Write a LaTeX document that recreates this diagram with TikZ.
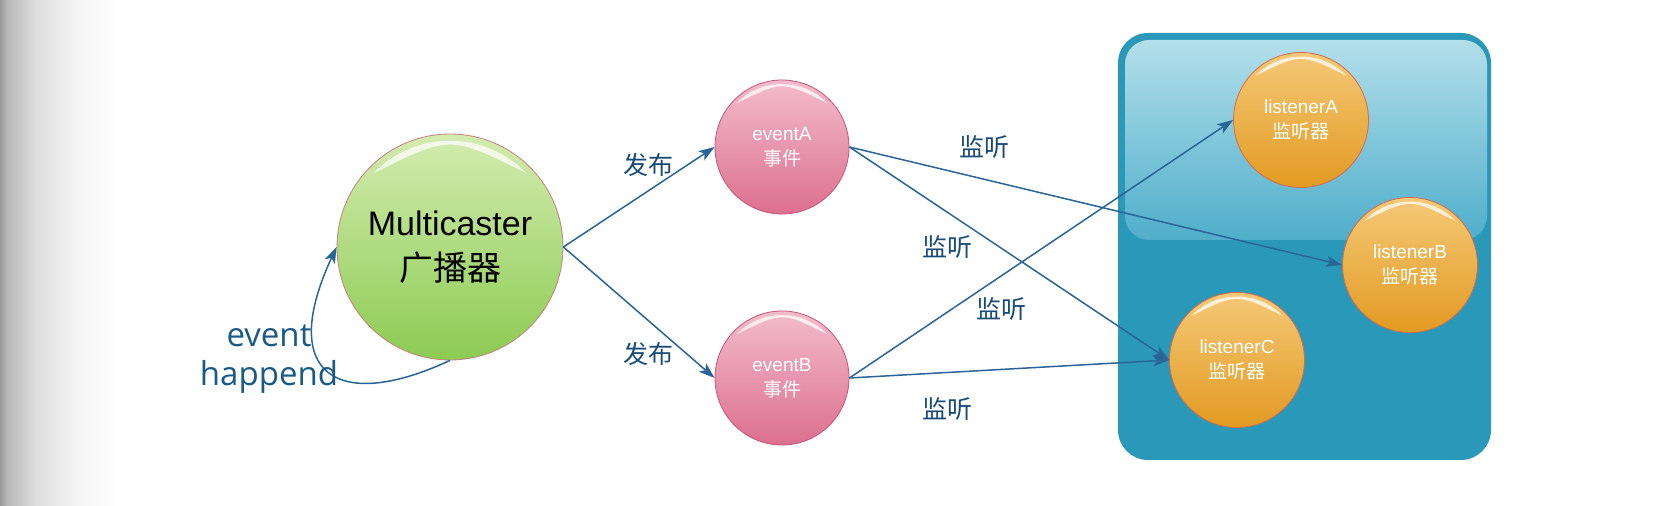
\documentclass[tikz,border=0pt]{standalone}
\usepackage{fontspec}
\setmainfont{Liberation Sans}
\newfontfamily\cjk{Noto Sans CJK SC}
\newfontfamily\lblfont{Open Sans}
\usetikzlibrary{arrows.meta,calc}
\definecolor{arrowc}{HTML}{2A6597}
\definecolor{labc}{HTML}{184B76}
\definecolor{evc}{HTML}{1A5A86}
\definecolor{gTop}{HTML}{D3ECB0}
\definecolor{gMid}{HTML}{A8D874}
\definecolor{gBot}{HTML}{8CCB52}
\definecolor{gBrd}{HTML}{C77F7F}
\definecolor{pTop}{HTML}{F3BCCB}
\definecolor{pMid}{HTML}{E48AA5}
\definecolor{pBot}{HTML}{DC6F8F}
\definecolor{pBrd}{HTML}{C55478}
\definecolor{oTop}{HTML}{F5C977}
\definecolor{oMid}{HTML}{EAA436}
\definecolor{oBot}{HTML}{E29A22}
\definecolor{oBrd}{HTML}{D66A4C}
\definecolor{boxc}{HTML}{2A98B9}
\definecolor{hlTop}{HTML}{B3DFEA}
\definecolor{hlBot}{HTML}{4FAECB}
\pgfdeclarehorizontalshading{leftgray}{100bp}{color(0bp)=(black!40); color(25bp)=(black!40); color(28bp)=(black!28); color(40bp)=(black!13); color(58bp)=(black!4); color(75bp)=(white); color(100bp)=(white)}
\newcommand\glossy[2]{%
  \coordinate (g1) at ($(#1)+(136:#2*0.94)$);
  \fill[white, opacity=0.75] (g1) arc[start angle=136, end angle=44, radius=#2*0.94]
    .. controls ($(#1)+(90:#2*0.99)$) .. (g1) -- cycle;
}
\begin{document}
\begin{tikzpicture}[x=1pt,y=1pt,
  ball/.style={circle, draw, line width=0.8pt, inner sep=0pt, align=center},
  gball/.style={ball, minimum size=226pt, draw=gBrd, top color=gTop, middle color=gMid, bottom color=gBot, font=\fontsize{34}{45}\selectfont},
  pball/.style={ball, minimum size=134pt, draw=pBrd, top color=pTop, middle color=pMid, bottom color=pBot, text=white, font=\fontsize{19}{25}\selectfont},
  oball/.style={ball, minimum size=135pt, draw=oBrd, top color=oTop, middle color=oMid, bottom color=oBot, text=white, font=\fontsize{19}{25}\selectfont},
  arr/.style={draw=arrowc, line width=1.5pt, -{Stealth[length=16pt,width=11pt,inset=4pt]}},
  lab/.style={text=labc, font=\cjk\fontsize{25}{30}\selectfont},
]
\useasboundingbox (0,0) rectangle (1666,506);
\fill[white] (0,0) rectangle (1666,506);
\shade[shading=leftgray] (0,0) rectangle (120,506);

% listener box
\fill[boxc, rounded corners=30pt] (1118,46) rectangle (1491,473);
\shade[top color=hlTop, bottom color=hlBot, rounded corners=24pt] (1125,266) rectangle (1487,466);

% nodes
\node[gball] (mc) at (450,259) {Multicaster\\{\cjk 广播器}};
\node[pball] (evA) at (782,359) {eventA\\{\cjk 事件}};
\node[pball] (evB) at (782,128) {eventB\\{\cjk 事件}};
\node[oball] (liA) at (1301,386) {listenerA\\{\cjk 监听器}};
\node[oball] (liB) at (1410,241) {listenerB\\{\cjk 监听器}};
\node[oball] (liC) at (1237,146) {listenerC\\{\cjk 监听器}};

\glossy{mc}{113}
\glossy{evA}{67}
\glossy{evB}{67}
\glossy{liA}{67.5}
\glossy{liB}{67.5}
\glossy{liC}{67.5}

% connectors
\draw[arr] (mc.east) -- (evA.west);
\draw[arr] (mc.east) -- (evB.west);
\draw[arr] (evA.east) -- (liB.west);
\draw[arr] (evA.east) -- (liC.west);
\draw[arr] (evB.east) -- (liA.west);
\draw[arr] (evB.east) -- (liC.west);
\draw[arr] (mc.south) .. controls +(205:125) and +(245:140) .. (mc.west);

% labels
\node[lab] (l1) at (648,341) {发布};
\node[lab] (l2) at (648,152) {发布};
\node[lab] (l3) at (984,359) {监听};
\node[lab] (l4) at (947,259) {监听};
\node[lab] (l5) at (1001,197) {监听};
\node[lab] (l6) at (947,97) {监听};
\node[text=evc, align=center, font=\lblfont\fontsize{33}{39}\selectfont] (ev) at (269,146.5) {event\\happend};
\end{tikzpicture}
\end{document}
